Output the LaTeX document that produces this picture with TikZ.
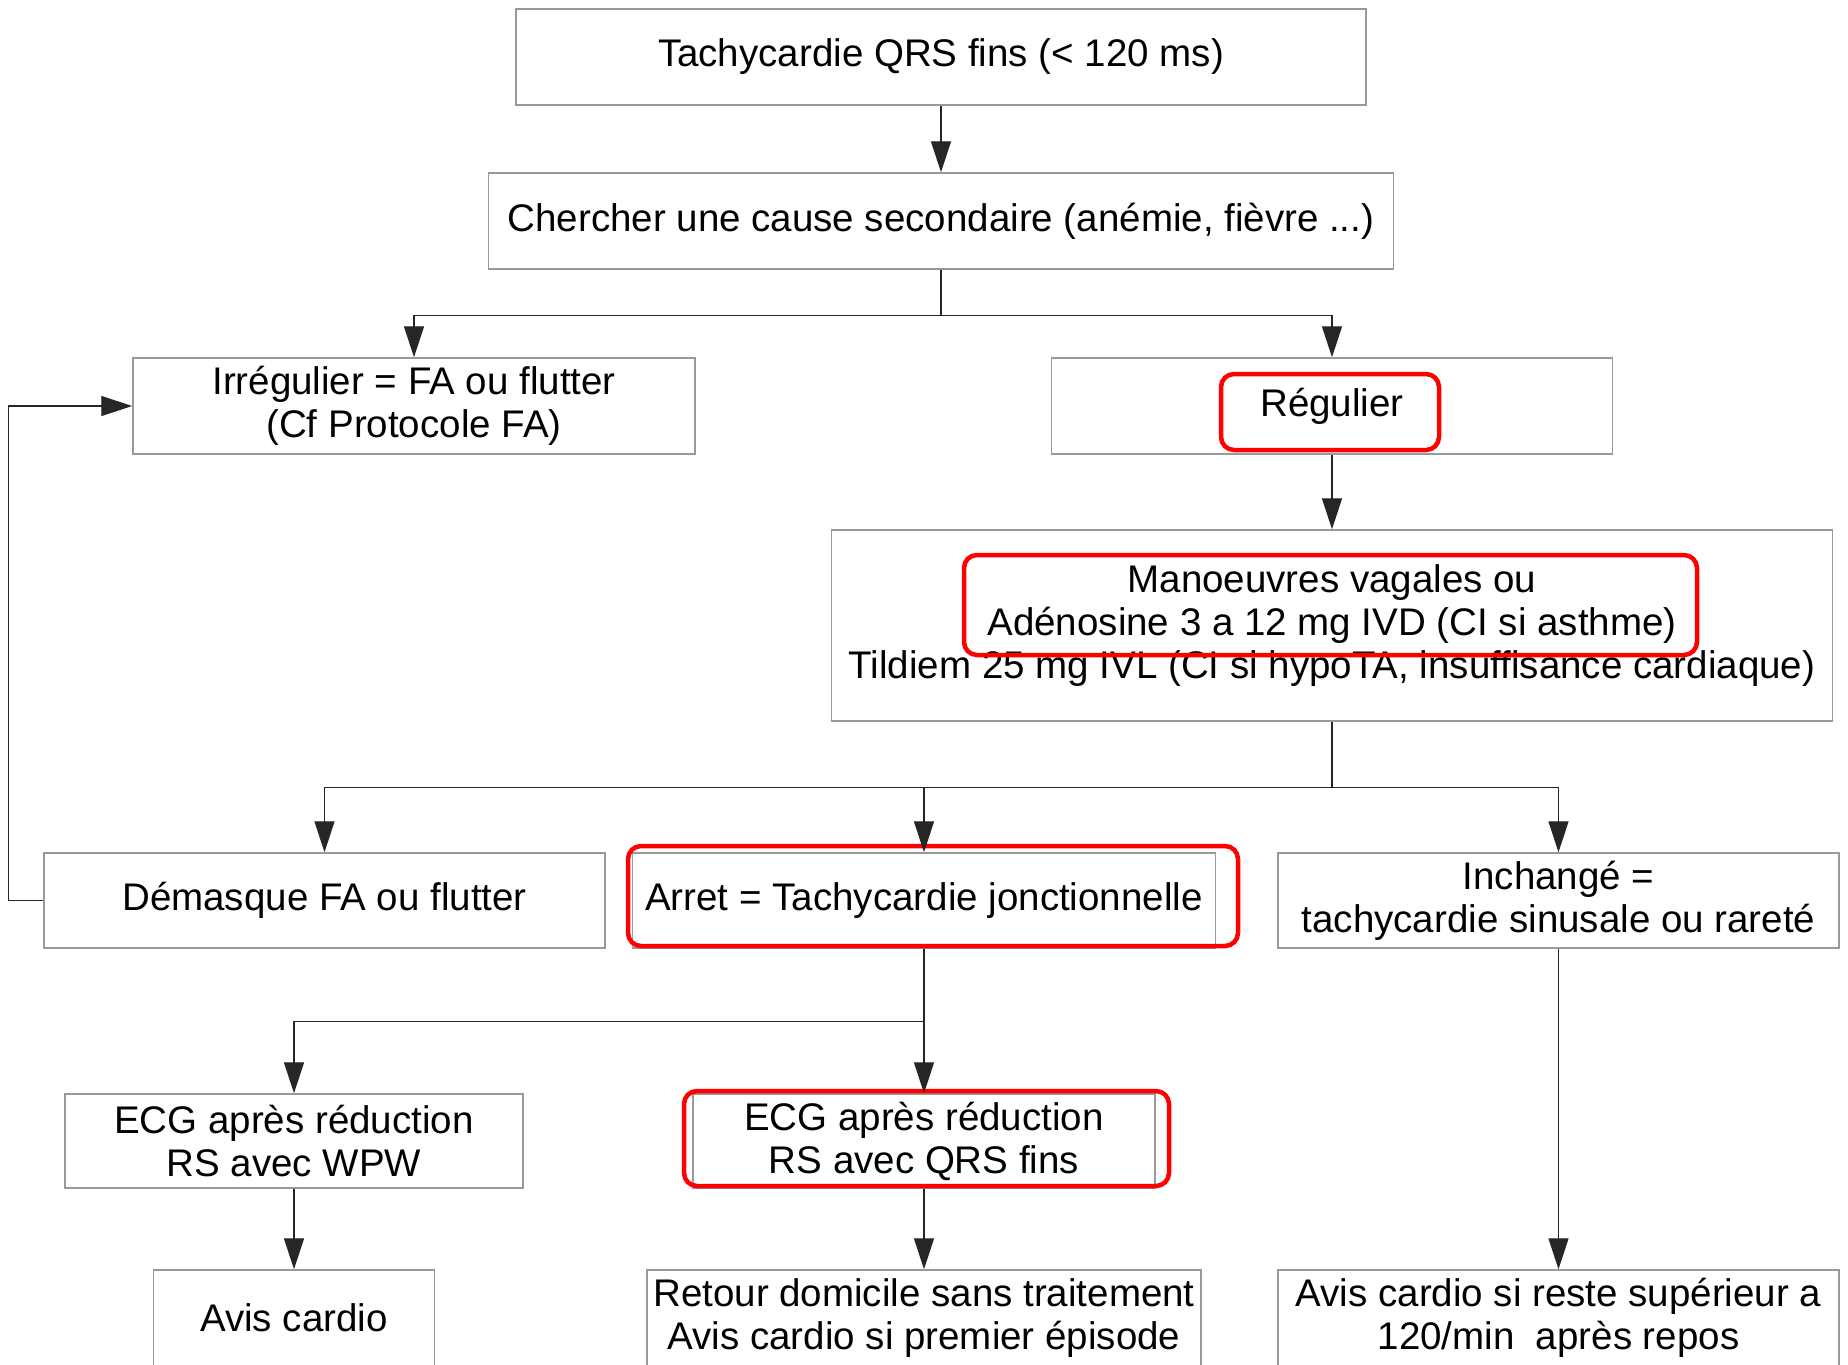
\documentclass[tikz,border=0pt]{standalone}
\usepackage{fontspec}
\setmainfont{Liberation Sans}
\usetikzlibrary{arrows.meta}
\begin{document}
\begin{tikzpicture}[x=1pt,y=1pt,
  box/.style={draw=black!40, line width=1.5pt, align=center, inner sep=0pt,
    font=\fontsize{38.5}{43}\selectfont},
  redframe/.style={draw=red, line width=4.5pt, rounded corners=13pt},
  conn/.style={draw=black!85, line width=1.4pt},
  arr/.style={conn, -{Triangle[length=31pt,width=20pt]}}]
\fill[white] (0,0) rectangle (1848,-1365);
\clip (0,0) rectangle (1848,-1365);
\node[box, minimum width=850pt, minimum height=96pt] (n1) at (941,-57) {Tachycardie QRS fins (< 120 ms)};
\node[box, minimum width=905pt, minimum height=96pt] (n2) at (941,-221) {Chercher une cause secondaire (anémie, fièvre ...)};
\node[box, minimum width=562pt, minimum height=96pt] (n3) at (414,-406) {Irrégulier = FA ou flutter\\(Cf Protocole FA)};
\node[box, minimum width=561pt, minimum height=96pt] (n4) at (1332,-406) {Régulier};
\node[box, minimum width=1001pt, minimum height=191pt] (n5) at (1332,-625.5) {Manoeuvres vagales ou\\Adénosine 3 a 12 mg IVD (CI si asthme)\\Tildiem 25 mg IVL (CI si hypoTA, insuffisance cardiaque)};
\node[box, minimum width=561pt, minimum height=95pt] (n6) at (324.5,-900.5) {Démasque FA ou flutter};
\node[box, minimum width=583pt, minimum height=95pt] (n7) at (924,-900.5) {Arret = Tachycardie jonctionnelle};
\node[box, minimum width=561pt, minimum height=95pt] (n8) at (1558.5,-900.5) {Inchangé =\\tachycardie sinusale ou rareté};
\node[box, minimum width=458pt, minimum height=94pt] (n9) at (294,-1141) {ECG après réduction\\RS avec WPW};
\node[box, minimum width=462pt, minimum height=94pt] (n10) at (924,-1141) {ECG après réduction\\RS avec QRS fins};
\node[box, minimum width=281pt, minimum height=96pt] (n11) at (294,-1318) {Avis cardio};
\node[box, minimum width=554pt, minimum height=96pt] (n12) at (924,-1318) {Retour domicile sans traitement\\Avis cardio si premier épisode};
\node[box, minimum width=561pt, minimum height=96pt] (n13) at (1558.5,-1318) {Avis cardio si reste supérieur a\\120/min~ après repos};
% red highlight frames
\draw[redframe] (1221,-374) rectangle (1439,-450);
\draw[redframe] (964,-555) rectangle (1697,-655);
\draw[redframe] (628,-846) rectangle (1238,-946);
\draw[redframe] (684,-1091) rectangle (1169,-1186);
% connectors
\draw[arr] (n1.south) -- (n2.north);
\draw[conn] (n2.south) -- ++(0,-46) coordinate (b1);
\draw[arr] (b1) -| (n3.north);
\draw[arr] (b1) -| (n4.north);
\draw[arr] (n4.south) -- (n5.north);
\draw[conn] (n5.south) -- ++(0,-66) coordinate (b2);
\draw[arr] (b2) -| (n6.north);
\draw[arr] (b2) -| (n7.north);
\draw[arr] (b2) -| (n8.north);
\draw[conn] (n7.south) -- ++(0,-73) coordinate (b3);
\draw[arr] (b3) -| (n9.north);
\draw[arr] (b3) -| (n10.north);
\draw[arr] (n9.south) -- (n11.north);
\draw[arr] (n10.south) -- (n12.north);
\draw[arr] (n8.south) -- (n13.north);
\draw[arr] (n6.west) -- ++(-35,0) |- (n3.west);
\end{tikzpicture}
\end{document}
